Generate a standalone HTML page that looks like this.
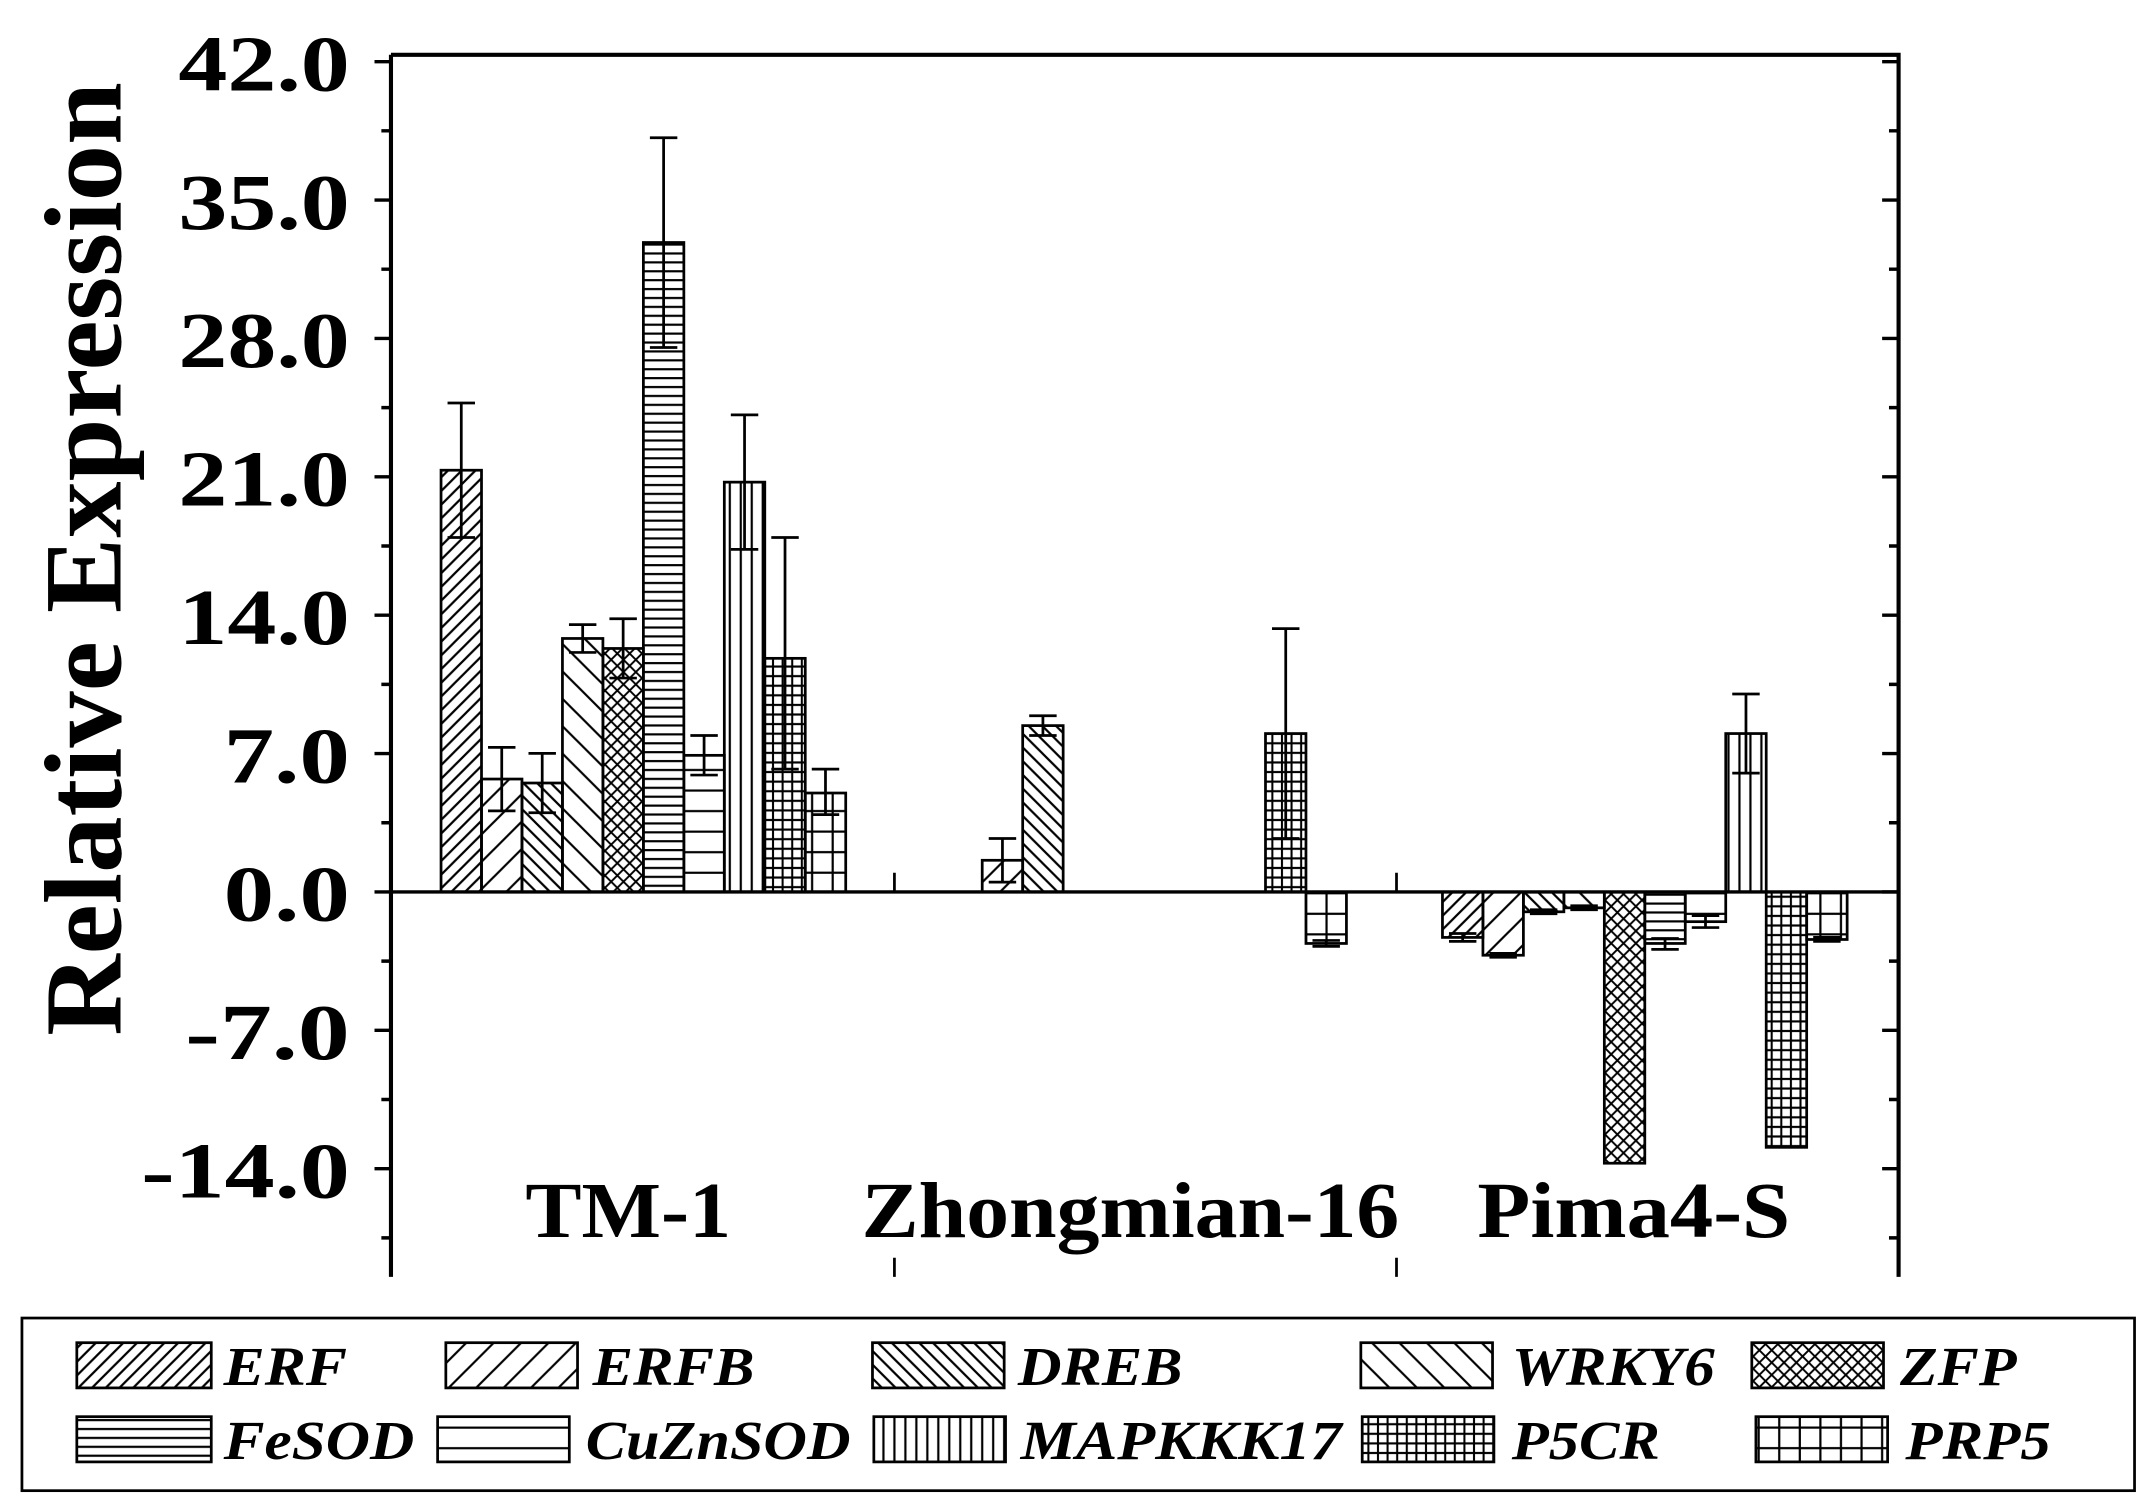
<!DOCTYPE html>
<html><head><meta charset="utf-8"><style>html,body{margin:0;padding:0;background:#fff}svg{display:block}</style></head>
<body>
<svg width="2151" height="1503" viewBox="0 0 1568 1097" preserveAspectRatio="none" xmlns="http://www.w3.org/2000/svg">
<defs>
<pattern id="fd" patternUnits="userSpaceOnUse" width="10" height="10"><path d="M-2,12 L12,-2 M-7,7 L7,-7 M3,17 L17,3" stroke="#000" stroke-width="1.6"/></pattern>
<pattern id="fs" patternUnits="userSpaceOnUse" width="20" height="20"><path d="M-2,22 L22,-2 M-12,12 L12,-12 M8,32 L32,8" stroke="#000" stroke-width="1.6"/></pattern>
<pattern id="bd" patternUnits="userSpaceOnUse" width="10" height="10"><path d="M-2,-2 L12,12 M-7,3 L7,17 M3,-7 L17,7" stroke="#000" stroke-width="1.6"/></pattern>
<pattern id="bs" patternUnits="userSpaceOnUse" width="20" height="20"><path d="M-2,-2 L22,22 M-12,8 L12,32 M8,-12 L32,12" stroke="#000" stroke-width="1.6"/></pattern>
<pattern id="cr" patternUnits="userSpaceOnUse" width="9" height="9"><path d="M-2,11 L11,-2 M-2,-2 L11,11" stroke="#000" stroke-width="1.4"/></pattern>
<pattern id="hd" patternUnits="userSpaceOnUse" width="10" height="6.5"><path d="M0,3 L10,3" stroke="#000" stroke-width="1.6"/></pattern>
<pattern id="hs" patternUnits="userSpaceOnUse" width="10" height="15"><path d="M0,7 L10,7" stroke="#000" stroke-width="1.6"/></pattern>
<pattern id="vv" patternUnits="userSpaceOnUse" width="8" height="10"><path d="M4,0 L4,10" stroke="#000" stroke-width="1.6"/></pattern>
<pattern id="gd" patternUnits="userSpaceOnUse" width="7" height="7"><path d="M0,3.5 L7,3.5 M3.5,0 L3.5,7" stroke="#000" stroke-width="1.5"/></pattern>
<pattern id="gs" patternUnits="userSpaceOnUse" width="15" height="15"><path d="M0,7 L15,7 M7,0 L7,15" stroke="#000" stroke-width="1.6"/></pattern>
</defs>
<rect width="1568" height="1097" fill="#fff"/>
<g stroke="#000" stroke-width="2">
<rect x="321.5" y="343.2" width="29.5" height="307.8" fill="url(#fd)"/>
<rect x="351" y="568.6" width="29.5" height="82.4" fill="url(#fs)"/>
<rect x="380.5" y="571.5" width="29.5" height="79.5" fill="url(#bd)"/>
<rect x="410" y="466" width="29.5" height="185" fill="url(#bs)"/>
<rect x="439.5" y="473.3" width="29.5" height="177.7" fill="url(#cr)"/>
<rect x="469" y="177" width="29.5" height="474" fill="url(#hd)"/>
<rect x="498.5" y="551.3" width="29.5" height="99.7" fill="url(#hs)"/>
<rect x="528" y="351.9" width="29.5" height="299.1" fill="url(#vv)"/>
<rect x="557.5" y="480.5" width="29.5" height="170.5" fill="url(#gd)"/>
<rect x="587" y="578.8" width="29.5" height="72.2" fill="url(#gs)"/>
<rect x="716" y="627.9" width="29.5" height="23.1" fill="url(#fs)"/>
<rect x="745.5" y="529.6" width="29.5" height="121.4" fill="url(#bd)"/>
<rect x="922.5" y="535.4" width="29.5" height="115.6" fill="url(#gd)"/>
<rect x="952" y="651" width="29.5" height="37.6" fill="url(#gs)"/>
<rect x="1051.5" y="651" width="29.5" height="33.2" fill="url(#fd)"/>
<rect x="1081" y="651" width="29.5" height="46.2" fill="url(#fs)"/>
<rect x="1110.5" y="651" width="29.5" height="14.5" fill="url(#bd)"/>
<rect x="1140" y="651" width="29.5" height="11.6" fill="url(#bs)"/>
<rect x="1169.5" y="651" width="29.5" height="198" fill="url(#cr)"/>
<rect x="1199" y="651" width="29.5" height="37.6" fill="url(#hd)"/>
<rect x="1228.5" y="651" width="29.5" height="21.7" fill="url(#hs)"/>
<rect x="1258" y="535.4" width="29.5" height="115.6" fill="url(#vv)"/>
<rect x="1287.5" y="651" width="29.5" height="186.4" fill="url(#gd)"/>
<rect x="1317" y="651" width="29.5" height="34.7" fill="url(#gs)"/>
</g>
<g stroke="#000" stroke-width="2" fill="none">
<path d="M336.25,294.1V392.3M326.25,294.1h20M326.25,392.3h20"/>
<path d="M365.75,545.5V591.8M355.75,545.5h20M355.75,591.8h20"/>
<path d="M395.25,549.9V593.2M385.25,549.9h20M385.25,593.2h20"/>
<path d="M424.75,455.9V476.2M414.75,455.9h20M414.75,476.2h20"/>
<path d="M454.25,451.6V494.9M444.25,451.6h20M444.25,494.9h20"/>
<path d="M483.75,100.5V253.6M473.75,100.5h20M473.75,253.6h20"/>
<path d="M513.25,536.8V565.7M503.25,536.8h20M503.25,565.7h20"/>
<path d="M542.75,302.8V401M532.75,302.8h20M532.75,401h20"/>
<path d="M572.25,392.3V561.4M562.25,392.3h20M562.25,561.4h20"/>
<path d="M601.75,561.4V594.6M591.75,561.4h20M591.75,594.6h20"/>
<path d="M730.75,612V643.8M720.75,612h20M720.75,643.8h20"/>
<path d="M760.25,522.4V536.8M750.25,522.4h20M750.25,536.8h20"/>
<path d="M937.25,458.8V612M927.25,458.8h20M927.25,612h20"/>
<path d="M966.75,686.4V690.7M956.75,686.4h20M956.75,690.7h20"/>
<path d="M1066.25,681.3V687.1M1056.25,681.3h20M1056.25,687.1h20"/>
<path d="M1095.75,695.8V698.7M1085.75,695.8h20M1085.75,698.7h20"/>
<path d="M1125.25,664V666.9M1115.25,664h20M1115.25,666.9h20"/>
<path d="M1154.75,661.1V664M1144.75,661.1h20M1144.75,664h20"/>
<path d="M1213.75,685V692.9M1203.75,685h20M1203.75,692.9h20"/>
<path d="M1243.25,668.3V677M1233.25,668.3h20M1233.25,677h20"/>
<path d="M1272.75,506.5V564.3M1262.75,506.5h20M1262.75,564.3h20"/>
<path d="M1331.75,684.2V687.1M1321.75,684.2h20M1321.75,687.1h20"/>
</g>
<g stroke="#000" fill="none">
<path d="M285,40H1384V932M285,40V932" stroke-width="3"/>
<path d="M285,651H1384" stroke-width="2.5"/>
<path d="M652,651v-14M1018,651v-14M652,932v-14M1018,932v-14" stroke-width="2"/>
<path stroke-width="2.5" d="M273,45h12M273,146h12M273,247h12M273,348h12M273,449h12M273,550h12M273,651h12M273,752h12M273,853h12
M278,95.5h7M278,196.5h7M278,297.5h7M278,398.5h7M278,499.5h7M278,600.5h7M278,701.5h7M278,802.5h7M278,903.5h7
M1372,45h12M1372,146h12M1372,247h12M1372,348h12M1372,449h12M1372,550h12M1372,651h12M1372,752h12M1372,853h12
M1377,95.5h7M1377,196.5h7M1377,297.5h7M1377,398.5h7M1377,499.5h7M1377,600.5h7M1377,701.5h7M1377,802.5h7M1377,903.5h7"/>
</g>
<g font-family="Liberation Serif, serif" font-weight="bold" font-size="58" fill="#000" lengthAdjust="spacingAndGlyphs">
<text x="130" y="66" textLength="125" lengthAdjust="spacingAndGlyphs">42.0</text>
<text x="130" y="167" textLength="125" lengthAdjust="spacingAndGlyphs">35.0</text>
<text x="130" y="268" textLength="125" lengthAdjust="spacingAndGlyphs">28.0</text>
<text x="130" y="369" textLength="125" lengthAdjust="spacingAndGlyphs">21.0</text>
<text x="130" y="470" textLength="125" lengthAdjust="spacingAndGlyphs">14.0</text>
<text x="163" y="571" textLength="92" lengthAdjust="spacingAndGlyphs">7.0</text>
<text x="163" y="672" textLength="92" lengthAdjust="spacingAndGlyphs">0.0</text>
<text x="135" y="773" textLength="120" lengthAdjust="spacingAndGlyphs">-7.0</text>
<text x="103" y="874" textLength="152" lengthAdjust="spacingAndGlyphs">-14.0</text>
</g>
<text transform="translate(88,408) rotate(-90)" x="-348" y="0" font-family="Liberation Serif, serif" font-weight="bold" font-size="80" textLength="696" lengthAdjust="spacingAndGlyphs">Relative Expression</text>
<g font-family="Liberation Serif, serif" font-weight="bold" font-size="58">
<text x="383" y="903" textLength="150" lengthAdjust="spacingAndGlyphs">TM-1</text>
<text x="628" y="903" textLength="392" lengthAdjust="spacingAndGlyphs">Zhongmian-16</text>
<text x="1077" y="903" textLength="228" lengthAdjust="spacingAndGlyphs">Pima4-S</text>
</g>
<rect x="16" y="962" width="1540" height="126" fill="none" stroke="#000" stroke-width="2"/>
<g stroke="#000" stroke-width="2">
<rect x="56" y="980" width="98" height="33" fill="url(#fd)"/>
<rect x="325" y="980" width="96" height="33" fill="url(#fs)"/>
<rect x="636" y="980" width="96" height="33" fill="url(#bd)"/>
<rect x="992" y="980" width="96" height="33" fill="url(#bs)"/>
<rect x="1277" y="980" width="96" height="33" fill="url(#cr)"/>
<rect x="56" y="1034" width="98" height="33" fill="url(#hd)"/>
<rect x="319" y="1034" width="96" height="33" fill="url(#hs)"/>
<rect x="637" y="1034" width="96" height="33" fill="url(#vv)"/>
<rect x="993" y="1034" width="96" height="33" fill="url(#gd)"/>
<rect x="1280" y="1034" width="96" height="33" fill="url(#gs)"/>
</g>
<g font-family="Liberation Serif, serif" font-weight="bold" font-style="italic" font-size="40">
<text x="163" y="1011" textLength="90" lengthAdjust="spacingAndGlyphs">ERF</text>
<text x="432" y="1011" textLength="118" lengthAdjust="spacingAndGlyphs">ERFB</text>
<text x="742" y="1011" textLength="120" lengthAdjust="spacingAndGlyphs">DREB</text>
<text x="1102" y="1011" textLength="148" lengthAdjust="spacingAndGlyphs">WRKY6</text>
<text x="1385" y="1011" textLength="85" lengthAdjust="spacingAndGlyphs">ZFP</text>
<text x="163" y="1065" textLength="139" lengthAdjust="spacingAndGlyphs">FeSOD</text>
<text x="427" y="1065" textLength="193" lengthAdjust="spacingAndGlyphs">CuZnSOD</text>
<text x="744" y="1065" textLength="234" lengthAdjust="spacingAndGlyphs">MAPKKK17</text>
<text x="1102" y="1065" textLength="108" lengthAdjust="spacingAndGlyphs">P5CR</text>
<text x="1389" y="1065" textLength="106" lengthAdjust="spacingAndGlyphs">PRP5</text>
</g>
</svg>
</body></html>
